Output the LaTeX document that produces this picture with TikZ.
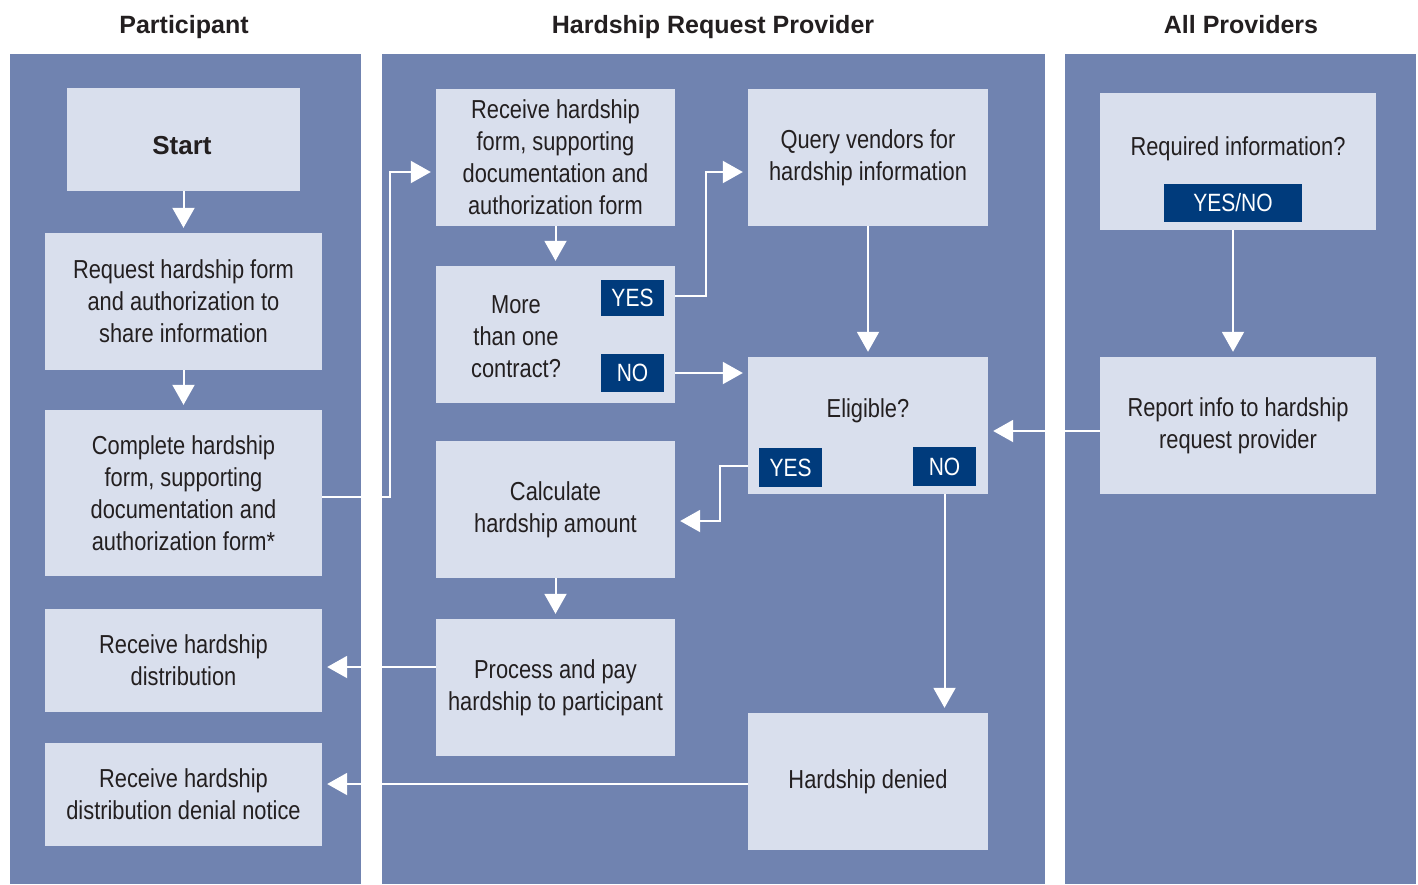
\documentclass[tikz,border=0pt]{standalone}
\usepackage{fontspec}
\setmainfont{Liberation Sans}
\newfontfamily\cond[FakeStretch=0.84]{Liberation Sans}
\usetikzlibrary{arrows.meta}
\definecolor{lane}{RGB}{112,131,176}
\definecolor{boxfill}{RGB}{217,223,237}
\definecolor{badge}{RGB}{0,59,124}
\definecolor{ink}{RGB}{35,31,32}
\tikzset{
  lanebox/.style={fill=lane, draw=none},
  procbox/.style={fill=boxfill, draw=none, text=ink, align=center, inner sep=0pt,
    font=\cond\fontsize{26}{32}\selectfont},
  txt/.style={text=ink, align=center, inner sep=0pt, font=\cond\fontsize{26}{32}\selectfont},
  badgebox/.style={fill=badge, draw=none, text=white, inner sep=0pt,
    font=\cond\fontsize{25}{28}\selectfont},
  header/.style={text=ink, inner sep=0pt, anchor=base, font=\bfseries\fontsize{25}{28}\selectfont},
  flow/.style={draw=white, line width=2pt, -{Triangle[width=22pt,length=20pt]}, shorten >=5pt},
}
\begin{document}
\begin{tikzpicture}[x=1pt,y=-1pt]
\useasboundingbox[fill=white] (0,0) rectangle (1418,884);
% lanes
\fill[lanebox] (10,54) rectangle (361,884);
\fill[lanebox] (382,54) rectangle (1045,884);
\fill[lanebox] (1065,54) rectangle (1416,884);
% headers
\node[header] (h1) at (184,33) {Participant};
\node[header] (h2) at (713,33) {Hardship Request Provider};
\node[header] (h3) at (1241,33) {All Providers};
% participant lane
\node[procbox, minimum width=233pt, minimum height=103pt] (start) at (183.5,139.5) {};
\node[txt, font=\bfseries\fontsize{26}{30}\selectfont, anchor=base] (starttxt) at (182,154) {Start};
\node[procbox, minimum width=277pt, minimum height=137pt] (request) at (183.5,301.5) {Request hardship form\\and authorization to\\share information};
\node[procbox, minimum width=277pt, minimum height=166pt] (complete) at (183.5,493) {Complete hardship\\form, supporting\\documentation and\\authorization form*};
\node[procbox, minimum width=277pt, minimum height=103pt] (recvdist) at (183.5,660.5) {Receive hardship\\distribution};
\node[procbox, minimum width=277pt, minimum height=103pt] (recvden) at (183.5,794.5) {Receive hardship\\distribution denial notice};
% provider lane
\node[procbox, minimum width=239pt, minimum height=137pt] (recvform) at (555.5,157.5) {Receive hardship\\form, supporting\\documentation and\\authorization form};
\node[procbox, minimum width=239pt, minimum height=137pt] (more) at (555.5,334.5) {};
\node[txt] (moretxt) at (516,337) {More\\than one\\contract?};
\node[badgebox, minimum width=63pt, minimum height=36pt] (moreyes) at (632.5,297.5) {YES};
\node[badgebox, minimum width=63pt, minimum height=38pt] (moreno) at (632.5,373) {NO};
\node[procbox, minimum width=239pt, minimum height=137pt] (calc) at (555.5,509.5) {Calculate\\hardship amount};
\node[procbox, minimum width=239pt, minimum height=137pt] (process) at (555.5,687.5) {Process and pay\\hardship to participant};
\node[procbox, minimum width=240pt, minimum height=137pt] (query) at (868,157.5) {Query vendors for\\hardship information};
\node[procbox, minimum width=240pt, minimum height=137pt] (elig) at (868,425.5) {};
\node[txt] (eligtxt) at (868,411) {Eligible?};
\node[badgebox, minimum width=63pt, minimum height=39pt] (eligyes) at (790.5,467.5) {YES};
\node[badgebox, minimum width=63pt, minimum height=39pt] (eligno) at (944.5,466.5) {NO};
\node[procbox, minimum width=240pt, minimum height=137pt] (denied) at (868,781.5) {Hardship denied};
% all providers lane
\node[procbox, minimum width=276pt, minimum height=137pt] (reqinfo) at (1238,161.5) {};
\node[txt] (reqtxt) at (1238,149) {Required information?};
\node[badgebox, minimum width=138pt, minimum height=38pt] (yesno) at (1233,203) {YES/NO};
\node[procbox, minimum width=276pt, minimum height=137pt] (report) at (1238,425.5) {Report info to hardship\\request provider};
% connectors
\draw[flow] (start.south) -- (request.north);
\draw[flow] (request.south) -- (complete.north);
\coordinate (c1) at (390,497);
\draw[flow] (complete.east |- c1) -- (c1) |- (recvform.west |- 0,172);
\draw[flow] (recvform.south) -- (more.north);
\coordinate (c2) at (706,296);
\draw[flow] (more.east |- c2) -- (c2) |- (query.west |- 0,172);
\draw[flow] (more.east |- moreno) -- (elig.west |- moreno);
\draw[flow] (query.south) -- (elig.north);
\draw[flow] (reqinfo.south -| yesno) -- (report.north -| yesno);
\draw[flow] (report.west |- 0,431) -- (elig.east |- 0,431);
\coordinate (c3) at (720,466);
\draw[flow] (elig.west |- c3) -- (c3) -- (720,521) -- (calc.east |- 0,521);
\draw[flow] (elig.south -| eligno) -- (denied.north -| eligno);
\draw[flow] (calc.south) -- (process.north);
\draw[flow] (process.west |- 0,667) -- (recvdist.east |- 0,667);
\draw[flow] (denied.west |- 0,784) -- (recvden.east |- 0,784);
\end{tikzpicture}
\end{document}
